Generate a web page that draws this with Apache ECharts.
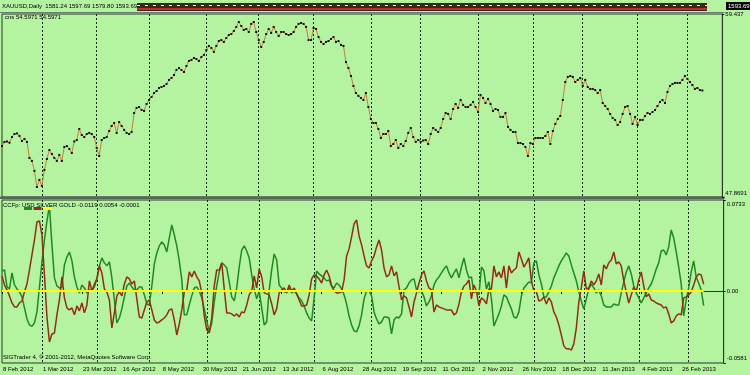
<!DOCTYPE html>
<html>
<head>
<meta charset="utf-8">
<script src="https://cdn.jsdelivr.net/npm/echarts@6.0.0/dist/echarts.min.js"></script>
<style>
html,body{margin:0;padding:0;background:#b4f3a0;}
#main{width:750px;height:375px;}
</style>
</head>
<body>
<div id="main"></div>
<script>
// daily bars: weekdays from 8 Feb 2012, the feed has no bar on 25 Dec and 1 Jan
var MON = ['Jan','Feb','Mar','Apr','May','Jun','Jul','Aug','Sep','Oct','Nov','Dec'];
var skipDays = ['2012-12-25', '2013-01-01'];
var totalBars = 290;   // 282 bars of data, the rest is empty space on the right
var labelStep = 16;    // a date label every 16 bars

// cns (top window), one value per bar
var cnsVals = [
  51.09,51.35,51.38,51.30,51.66,51.85,51.89,51.73,51.41,51.54,51.35,50.34,50.15,49.52,48.50,48.95,
  48.57,49.58,50.27,50.84,50.59,50.34,50.15,50.53,50.15,51.03,51.09,50.91,50.65,51.38,51.47,52.17,
  51.79,51.66,51.85,51.92,51.85,51.66,50.97,50.46,51.47,51.60,51.66,52.04,52.36,52.55,51.92,52.61,
  52.36,52.11,51.92,51.85,51.98,53.18,53.50,53.56,53.37,53.31,53.75,54.00,54.19,54.44,54.57,54.76,
  54.82,54.89,55.01,55.27,55.39,55.58,55.90,56.02,55.90,55.77,56.15,56.47,56.53,56.66,56.59,56.47,
  56.72,56.85,57.16,57.42,57.29,57.04,57.42,57.73,57.79,57.67,57.92,58.11,58.17,58.36,58.62,58.93,
  58.68,58.43,58.49,58.30,58.81,58.93,58.30,57.79,57.35,57.67,58.17,58.49,58.24,58.62,58.30,58.05,
  58.30,58.30,58.17,58.11,58.17,58.30,58.62,58.81,58.87,58.81,58.62,57.79,57.79,58.55,58.49,57.98,
  57.67,57.54,57.67,57.73,57.86,57.98,57.67,57.73,57.48,57.42,56.40,56.02,55.52,54.89,54.44,54.26,
  54.13,54.00,54.44,53.56,52.80,52.55,52.55,52.17,51.60,51.85,51.85,52.04,51.09,51.22,51.47,50.97,
  51.22,51.09,51.41,51.92,52.23,51.66,51.35,51.47,51.35,51.44,51.47,51.22,51.85,52.23,52.11,51.98,
  52.23,52.80,53.18,53.12,52.80,53.43,53.75,53.50,54.00,53.69,53.56,53.56,53.69,53.88,53.56,53.24,
  54.32,54.13,53.81,54.07,53.75,53.31,53.43,53.37,52.93,52.93,53.18,52.30,52.11,51.98,51.98,51.28,
  51.28,51.22,51.03,50.46,51.28,51.22,51.60,51.60,51.60,51.60,51.73,51.98,51.22,52.04,52.49,52.80,
  52.99,54.00,55.14,55.46,55.52,55.46,55.14,55.27,55.39,54.89,55.27,54.82,54.70,54.70,54.63,54.44,
  54.63,53.81,53.62,53.43,53.12,52.86,52.74,52.42,52.61,53.12,53.56,53.62,53.12,52.49,52.93,52.42,
  52.74,52.74,52.99,53.18,53.12,53.24,53.37,53.62,53.88,54.00,53.81,54.51,54.89,55.01,55.08,55.08,
  55.08,55.27,55.52,55.33,55.14,54.95,54.70,54.76,54.63,54.60
];

// CCFp lines (lower window)
var usdVals = [
  0.0161,0.0169,0.0032,0.0016,0.0145,0.0048,0.0016,-0.0008,-0.0048,-0.0137,-0.0226,-0.0274,-0.0286,-0.0258,-0.0169,0.0032,
  0.0234,0.0411,0.0564,0.0685,0.0371,0.0105,0.0040,0.0024,0.0032,0.0210,0.0274,0.0314,0.0242,0.0113,0.0032,-0.0016,
  0.0048,0.0024,-0.0016,0.0008,0.0008,0.0032,0.0097,0.0202,0.0266,0.0226,0.0202,0.0234,0.0105,-0.0073,-0.0258,-0.0218,
  -0.0145,-0.0048,0.0040,0.0064,0.0032,0.0008,0.0008,0.0032,0.0032,-0.0032,-0.0105,-0.0113,0.0040,0.0218,0.0306,0.0363,
  0.0395,0.0371,0.0314,0.0427,0.0532,0.0451,0.0363,0.0242,0.0089,-0.0193,-0.0193,-0.0113,-0.0040,0.0024,0.0032,0,
  -0.0056,-0.0145,-0.0242,-0.0330,-0.0258,-0.0089,0.0040,0.0153,0.0226,0.0210,0.0185,0.0073,-0.0048,-0.0081,0.0024,0.0193,
  0.0330,0.0363,0.0322,0.0266,0.0129,0.0016,-0.0064,0,-0.0137,-0.0274,-0.0250,0.0008,0.0169,0.0298,0.0250,0.0048,
  0.0024,-0.0008,-0.0008,0.0024,-0.0016,0,-0.0024,-0.0056,-0.0081,-0.0121,-0.0177,-0.0218,-0.0242,-0.0056,0.0161,0.0137,
  0.0121,0.0105,0.0081,0.0089,0.0040,0.0024,0.0064,0.0048,0.0016,-0.0032,-0.0105,-0.0202,-0.0274,-0.0322,-0.0330,-0.0282,
  -0.0193,-0.0064,0,0,-0.0040,-0.0169,-0.0226,-0.0266,-0.0250,-0.0210,-0.0210,-0.0218,-0.0347,-0.0234,-0.0210,-0.0218,
  -0.0185,0.0008,0.0024,0.0064,0.0089,0.0097,0.0008,-0.0008,0,-0.0048,-0.0121,-0.0089,-0.0040,0.0048,0.0089,0.0113,
  0.0145,0.0177,0.0202,0.0145,0.0105,0.0145,0.0177,0.0105,0.0193,0.0266,0.0169,0.0105,0.0113,-0.0016,0,-0.0032,
  0.0193,0.0161,0.0016,0.0073,-0.0064,-0.0282,-0.0234,-0.0185,-0.0121,-0.0032,-0.0048,-0.0097,-0.0145,-0.0210,-0.0218,-0.0169,
  -0.0040,0.0024,0.0048,0.0073,0.0064,0.0226,0.0242,0.0129,0.0056,-0.0048,-0.0048,-0.0008,0.0040,0.0105,0.0153,0.0202,
  0.0242,0.0274,0.0306,0.0282,0.0210,0.0145,0.0081,-0.0008,-0.0081,-0.0145,-0.0064,0.0016,0.0056,0.0024,-0.0016,0.0008,
  -0.0040,-0.0113,-0.0129,-0.0129,-0.0129,-0.0105,-0.0113,-0.0113,-0.0016,0.0073,0.0153,0.0202,0.0137,0.0040,-0.0016,-0.0056,
  -0.0097,-0.0056,-0.0016,0.0024,0.0056,0.0113,0.0177,0.0226,0.0322,0.0330,0.0290,0.0355,0.0492,0.0427,0.0314,0.0193,
  0.0056,-0.0202,-0.0073,0.0024,0.0153,0.0242,0.0113,0.0064,0.0008,-0.0119
];
var silverVals = [
  0.0121,0.0048,0.0008,-0.0040,-0.0097,-0.0129,-0.0129,-0.0097,-0.0081,-0.0008,0.0056,0.0169,0.0290,0.0411,0.0556,0.0564,
  0.0451,0.0129,-0.0210,-0.0411,-0.0347,-0.0339,-0.0193,-0.0073,0.0113,-0.0056,-0.0137,-0.0153,-0.0137,-0.0193,-0.0121,-0.0161,
  -0.0097,-0.0177,-0.0113,0.0081,0,0.0056,0.0097,0.0202,0.0145,0.0016,-0.0008,-0.0073,-0.0298,-0.0177,-0.0040,-0.0008,
  -0.0040,0.0056,0.0113,0.0097,0.0056,0.0081,-0.0064,-0.0210,-0.0218,-0.0153,-0.0089,-0.0073,-0.0153,-0.0234,-0.0258,-0.0250,
  -0.0234,-0.0218,-0.0193,-0.0153,-0.0145,-0.0234,-0.0355,-0.0266,-0.0153,-0.0008,0.0008,0.0153,0.0113,0.0161,0.0113,0.0081,
  -0.0016,-0.0202,-0.0314,-0.0339,-0.0218,0.0040,0.0169,0.0169,0.0226,0.0016,-0.0177,-0.0177,-0.0185,-0.0202,-0.0185,-0.0210,
  -0.0169,-0.0177,-0.0113,-0.0032,0,0.0121,0.0024,0.0177,0.0113,-0.0016,-0.0024,-0.0032,-0.0105,-0.0193,-0.0145,-0.0016,
  0.0008,0.0024,-0.0016,0.0048,0,0.0024,-0.0024,-0.0073,-0.0121,-0.0121,-0.0113,-0.0032,0.0097,0.0129,0.0121,0.0097,
  0.0064,0.0129,0.0169,0.0121,0.0040,0,-0.0016,-0.0016,-0.0008,0.0089,0.0282,0.0339,0.0435,0.0540,0.0572,0.0443,
  0.0371,0.0282,0.0202,0.0185,0.0242,0.0282,0.0355,0.0411,0.0330,0.0185,0.0113,0.0129,0.0202,0.0121,0.0153,0.0032,
  -0.0073,-0.0040,-0.0056,-0.0129,-0.0210,-0.0089,-0.0016,0.0064,0.0129,0.0161,0.0081,0.0024,0.0008,-0.0169,-0.0113,-0.0129,
  -0.0137,-0.0145,-0.0153,-0.0153,-0.0153,-0.0193,-0.0177,-0.0105,-0.0008,0.0040,0.0056,0.0089,-0.0064,0.0048,0,-0.0121,
  -0.0056,-0.0073,-0.0105,0.0016,0.0016,0.0202,0.0113,0.0153,0.0105,0.0202,0.0024,0.0202,0.0145,0.0169,0.0185,0.0314,
  0.0258,0.0193,0.0226,0.0266,0.0081,0,-0.0008,-0.0081,-0.0073,-0.0048,-0.0105,-0.0056,-0.0089,-0.0169,-0.0210,-0.0274,
  -0.0355,-0.0443,-0.0467,-0.0467,-0.0476,-0.0427,-0.0298,-0.0089,0.0024,0.0161,0.0016,0.0024,0.0081,0.0048,0.0081,0.0137,
  0.0048,0.0210,0.0177,0.0226,0.0250,0.0314,0.0218,0.0234,0.0202,0.0081,-0.0008,-0.0097,-0.0032,0.0032,-0.0008,0.0089,
  0.0153,0.0040,-0.0048,-0.0024,-0.0073,-0.0081,-0.0097,-0.0105,-0.0113,-0.0137,-0.0129,-0.0185,-0.0258,-0.0242,-0.0202,-0.0185,
  -0.0193,-0.0056,-0.0048,-0.0032,-0.0008,0.0048,0.0113,0.0137,0.0129,0.0054
];
var goldLevel = 0;   // GOLD stays flat on the zero line

// right scale labels
var cnsTicks = [47.8691, 59.437];
var ccfTicks = [-0.0581, 0, 0.0733];

var FONT = 'Liberation Sans';

// build the bar dates
var dates = [];
var monthStart = {};
var d = new Date(Date.UTC(2012, 1, 8));
var lastMonth = -1;
while (dates.length < totalBars) {
    var wd = d.getUTCDay();
    var key = d.toISOString().slice(0, 10);
    if (wd !== 0 && wd !== 6 && skipDays.indexOf(key) < 0) {
        if (lastMonth !== -1 && d.getUTCMonth() !== lastMonth) monthStart[dates.length] = true;
        lastMonth = d.getUTCMonth();
        dates.push(d.getUTCDate() + ' ' + MON[d.getUTCMonth()] + ' ' + d.getUTCFullYear());
    }
    d.setUTCDate(d.getUTCDate() + 1);
}
var lastBar = cnsVals.length - 1;

function isLabel(idx) { return idx % labelStep === 0 && idx <= lastBar; }
function isMonth(idx) { return !!monthStart[idx]; }

var gridLine = {show: true, interval: isMonth, lineStyle: {color: '#1a2a1a', width: 1, type: [2, 2]}};
var frame = '#2b3b2b';
var small = {fontSize: 6, color: '#000', fontFamily: FONT};

function rightLabel(v) {
    if (v === 47.8691) return '{up|47.8691}';
    if (v === 59.437) return '59.437';
    if (v === 0.0733) return '{down|0.0733}';
    if (v === -0.0581) return '{up2|-0.0581}';
    if (v === 0) return '0.00';
    return '';
}
var richLabels = {
    up: {fontSize: 6, color: '#000', fontFamily: FONT, padding: [0, 0, 8, 0]},
    up2: {fontSize: 6, color: '#000', fontFamily: FONT, padding: [0, 0, 10, 0]},
    down: {fontSize: 6, color: '#000', fontFamily: FONT, padding: [8, 0, 0, 0]}
};

var myChart = echarts.init(document.getElementById('main'));

var option = {
    backgroundColor: '#b4f3a0',
    animation: false,
    textStyle: {fontFamily: FONT},
    title: [
        {text: 'XAUUSD,Daily  1581.24 1597.69 1579.80 1593.69', left: 2, top: 3, padding: 0, textStyle: {fontSize: 6, fontWeight: 'normal', color: '#000', fontFamily: FONT}},
        {text: 'cns 54.5971 54.5971', left: 5, top: 14, padding: 0, textStyle: {fontSize: 6, fontWeight: 'normal', color: '#000', fontFamily: FONT}},
        {text: 'CCFp: USD SILVER GOLD -0.0119 0.0054 -0.0001', left: 3, top: 202, padding: 0, textStyle: {fontSize: 6, fontWeight: 'normal', color: '#000', fontFamily: FONT}},
        {text: 'SIGTrader 4, \u00a9 2001-2012, MetaQuotes Software Corp.', left: 3, top: 354, padding: 0, textStyle: {fontSize: 6, fontWeight: 'normal', color: '#000', fontFamily: FONT}}
    ],
    legend: {
        left: 24, top: 207, padding: 0,
        itemWidth: 8, itemHeight: 3, itemGap: 1.5, icon: 'rect',
        selectedMode: false,
        formatter: function () { return ''; },
        data: ['USD', 'SILVER', 'GOLD']
    },
    grid: [
        {left: 2, right: 25.5, top: 14, height: 183, show: true, borderColor: frame, borderWidth: 1},
        {left: 2, right: 25.5, top: 200, height: 163, show: true, borderColor: frame, borderWidth: 1}
    ],
    xAxis: [
        {
            gridIndex: 0, type: 'category', data: dates, boundaryGap: false,
            axisLine: {show: false}, axisTick: {show: false}, axisLabel: {show: false},
            splitLine: gridLine
        },
        {
            gridIndex: 1, type: 'category', data: dates, boundaryGap: false,
            axisLine: {show: true, lineStyle: {color: frame}},
            axisTick: {show: true, interval: isLabel, length: 3, lineStyle: {color: '#000'}},
            axisLabel: {interval: isLabel, align: 'left', margin: 3, fontSize: 6, color: '#000', fontFamily: FONT, padding: [0, 0, 0, 1]},
            splitLine: gridLine
        }
    ],
    yAxis: [
        {
            gridIndex: 0, type: 'value', position: 'right', min: 47.8691, max: 59.437,
            axisLine: {show: true, lineStyle: {color: frame}},
            axisTick: {show: true, length: 2, customValues: cnsTicks, lineStyle: {color: '#000'}},
            axisLabel: {customValues: cnsTicks, formatter: rightLabel, rich: richLabels, margin: 3, fontSize: 6, color: '#000', fontFamily: FONT},
            splitLine: {show: false}
        },
        {
            gridIndex: 1, type: 'value', position: 'right', min: -0.0581, max: 0.0733,
            axisLine: {show: true, lineStyle: {color: frame}},
            axisTick: {show: true, length: 2, customValues: ccfTicks, lineStyle: {color: '#000'}},
            axisLabel: {customValues: ccfTicks, formatter: rightLabel, rich: richLabels, margin: 3, fontSize: 6, color: '#000', fontFamily: FONT},
            splitLine: {show: false}
        }
    ],
    graphic: [
        // XAUUSD candles squeezed against the top edge
        {type: 'rect', shape: {x: 137, y: 3, width: 570, height: 8}, style: {fill: '#35281f'}},
        {type: 'line', shape: {x1: 137, y1: 9, x2: 707, y2: 9}, style: {stroke: '#c0301c', lineWidth: 2}},
        {type: 'line', shape: {x1: 137, y1: 5.5, x2: 707, y2: 5.5}, style: {stroke: '#f0f0f0', lineWidth: 1, lineDash: [3, 5]}},
        {type: 'line', shape: {x1: 0, y1: 12.5, x2: 724.5, y2: 12.5}, style: {stroke: '#6f7f6f', lineWidth: 1}},
        // window separator
        {type: 'rect', shape: {x: 0, y: 196.5, width: 724.5, height: 2.5}, style: {fill: '#56665a'}},
        // last price tag
        {type: 'text', left: 726, top: 2, style: {text: '1593.69', fill: '#fff', backgroundColor: '#000', padding: [1, 2], fontSize: 6, fontFamily: FONT}}
    ],
    series: [
        {
            name: 'cns', type: 'line', xAxisIndex: 0, yAxisIndex: 0, data: cnsVals,
            symbol: 'rect', symbolSize: 2, showAllSymbol: true,
            itemStyle: {color: '#101010'}, lineStyle: {color: '#c97b3d', width: 1}, silent: true
        },
        {
            name: 'USD', type: 'line', xAxisIndex: 1, yAxisIndex: 1, data: usdVals, symbol: 'none',
            itemStyle: {color: '#1f8a1f'}, lineStyle: {color: '#1f8a1f', width: 1.5}, silent: true
        },
        {
            name: 'SILVER', type: 'line', xAxisIndex: 1, yAxisIndex: 1, data: silverVals, symbol: 'none',
            itemStyle: {color: '#962b17'}, lineStyle: {color: '#962b17', width: 1.5}, silent: true
        },
        {
            name: 'GOLD', type: 'line', xAxisIndex: 1, yAxisIndex: 1, data: [], symbol: 'none',
            itemStyle: {color: '#ffff00'}, lineStyle: {color: '#ffff00'},
            markLine: {
                symbol: 'none', silent: true, label: {show: false},
                lineStyle: {color: '#ffff00', width: 2, type: 'solid'},
                data: [[{coord: [dates[0], goldLevel]}, {coord: [dates[lastBar], goldLevel]}]]
            }
        }
    ]
};

myChart.setOption(option);
</script>
</body>
</html>
